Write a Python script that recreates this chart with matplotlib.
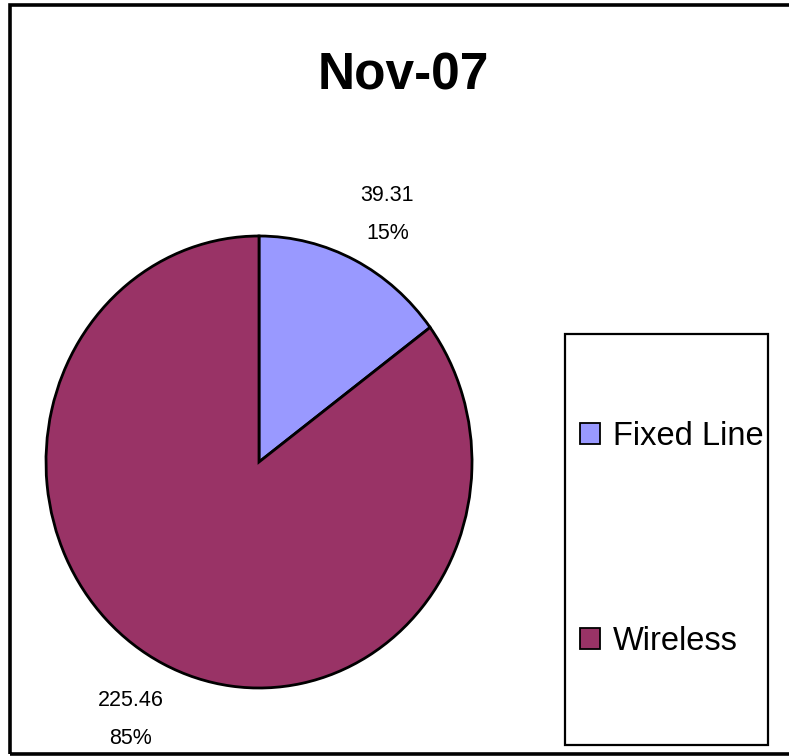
import matplotlib
matplotlib.use('Agg')
import numpy as np
import matplotlib.pyplot as plt
from matplotlib.patches import Rectangle, Patch

plt.rcParams['font.family'] = ['Liberation Sans', 'DejaVu Sans']

# data
categories = ['Fixed Line', 'Wireless']
values = [39.31, 225.46]
colors = ['#9999FF', '#993366']
title = 'Nov-07'

W, H = 789, 756
fig = plt.figure(figsize=(W / 100, H / 100), dpi=100, facecolor='white')

# pie centre and radii in pixels (source is a little squashed sideways)
cx, cy, rx, ry = 259, 462, 213, 226
ax = fig.add_axes([(cx - rx) / W, (H - cy - ry) / H, 2 * rx / W, 2 * ry / H])
wedges, _ = ax.pie(values, colors=colors, startangle=90, counterclock=False,
                   wedgeprops=dict(edgecolor='black', linewidth=2.0))
ax.set_aspect('auto')
ax.set_xlim(-1, 1)
ax.set_ylim(-1, 1)
ax.axis('off')

# value + percent labels outside each wedge
total = sum(values)
for w, v in zip(wedges, values):
    ang = np.deg2rad((w.theta1 + w.theta2) / 2)
    ax.text(1.34 * np.cos(ang), 1.25 * np.sin(ang) - 0.022,
            f'{v:.2f}\n{v / total:.0%}', ha='center', va='center',
            fontsize=15.5, linespacing=2.05)

fig.text(403 / W, 1 - 89 / H, title, ha='center', va='baseline',
         fontsize=37, fontweight='bold')

# legend, box drawn separately so the padding can differ per side
handles = [Patch(facecolor=c, edgecolor='black', linewidth=1.3) for c in colors]
fig.legend(handles, categories, loc='center left',
           bbox_to_anchor=(580 / W, 1 - 539 / H), frameon=False, fontsize=23.5,
           labelspacing=5.35, handlelength=0.6, handleheight=0.6,
           handletextpad=0.4, borderpad=0, borderaxespad=0)
fig.patches.append(Rectangle((565 / W, 1 - 745 / H), (768 - 565) / W, (745 - 334) / H,
                             transform=fig.transFigure, fill=False,
                             edgecolor='black', linewidth=1.6))

# outer chart frame (right side runs off the picture)
fig.patches.append(Rectangle((10 / W, 1 - 754 / H), 1.0, (754 - 4.5) / H,
                             transform=fig.transFigure, fill=False,
                             edgecolor='black', linewidth=2.6))

fig.savefig('out.png', dpi=100, facecolor='white')
